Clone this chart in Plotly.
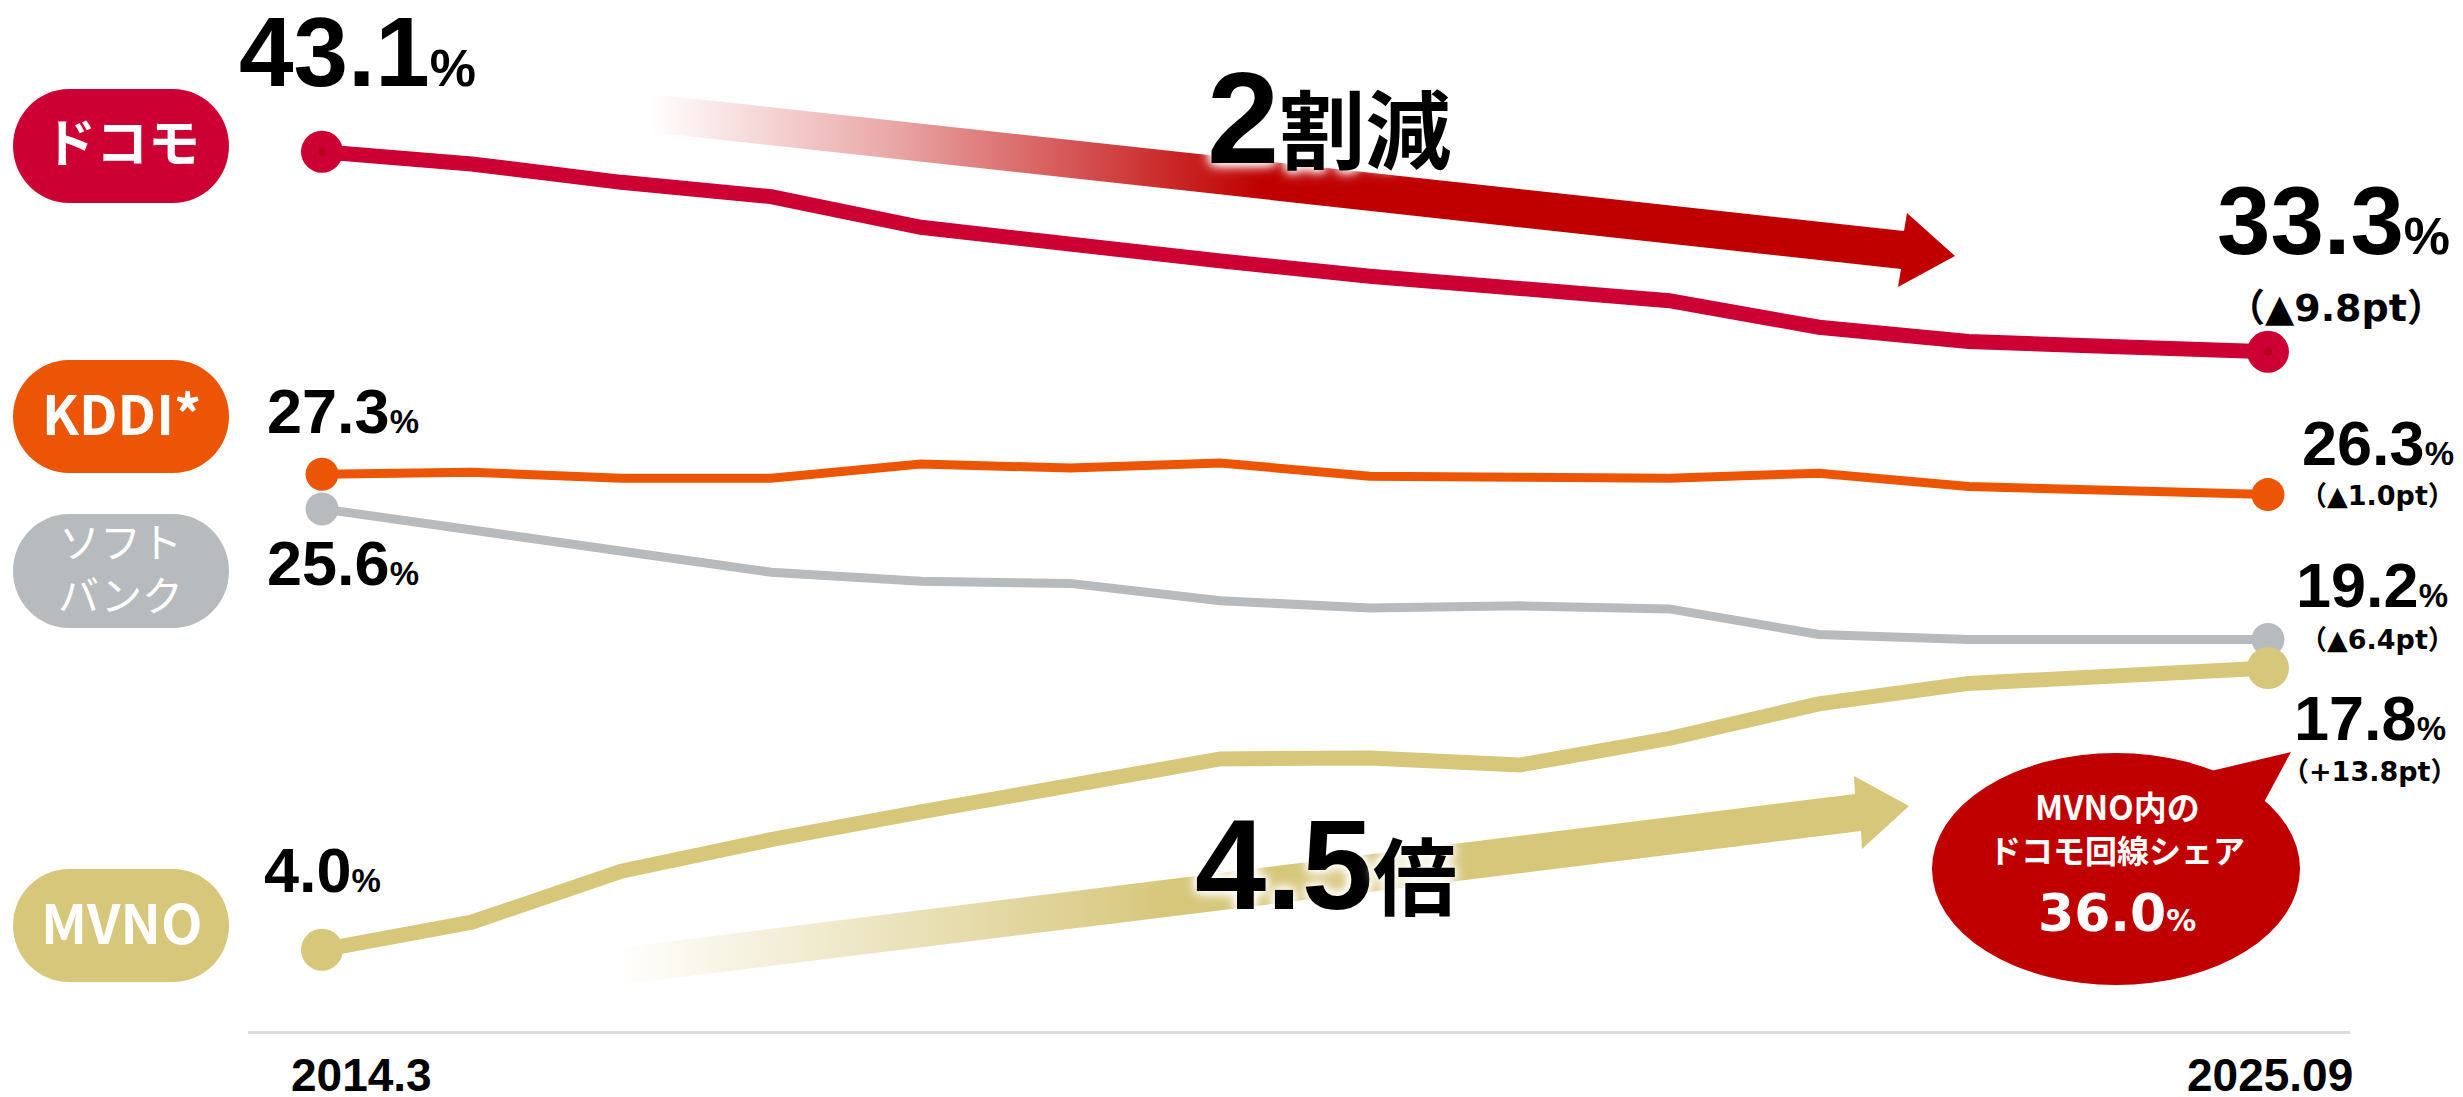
import plotly.graph_objects as go

# ---------------- data ----------------
x_pos = list(range(14))
tick_pos = [0, 13]
tick_labels = ["2014.3", "2025.09"]

series_names = ["ドコモ", "KDDI*", "ソフトバンク", "MVNO"]
docomo = [43.1, 42.5, 41.6, 40.9, 39.4, 38.5, 37.75, 37.0, 36.4, 35.8, 34.5, 33.8, 33.55, 33.3]
kddi = [27.3, 27.4, 27.1, 27.1, 27.8, 27.6, 27.85, 27.2, 27.15, 27.1, 27.35, 26.7, 26.5, 26.3]
softbank = [25.6, 24.6, 23.55, 22.5, 22.05, 21.95, 21.1, 20.75, 20.85, 20.7, 19.45, 19.2, 19.2, 19.2]
mvno = [4.0, 5.35, 7.85, 9.4, 10.75, 12.05, 13.35, 13.4, 13.05, 14.35, 16.05, 17.05, 17.4, 17.8]

start_labels = ["43.1", "27.3", "25.6", "4.0"]
end_labels = ["33.3", "26.3", "19.2", "17.8"]
change_labels = ["（▲9.8pt）", "（▲1.0pt）", "（▲6.4pt）", "（+13.8pt）"]

decline_num, decline_word = "2", "割減"
growth_num, growth_word = "4.5", "倍"
bubble_lines = ["MVNO内の", "ドコモ回線シェア"]
bubble_value = "36.0"

# ---------------- style ----------------
W, H = 2463, 1097
C_DOCOMO = "#CC0033"
C_KDDI = "#EB5505"
C_SB = "#B8BBBE"
C_MVNO = "#D7C77B"
C_RED = "#C00000"
NUM_FONT = "Liberation Sans, Arial, Noto Sans CJK JP"
JP_FONT = "Noto Sans CJK JP"
WIDE_FONT = "DejaVu Sans, Noto Sans CJK JP"

# main axes geometry (pixels)
X_L, X_R, X0_PX, STEP = 248, 2350, 322, 149.69
Y_BASE, PX_PER, YMAX = 1031.4, 20.41, 50
x_range = [(X_L - X0_PX) / STEP, (X_R - X0_PX) / STEP]
y_top_px = Y_BASE - YMAX * PX_PER

fig = go.Figure()

# ---------------- decorative arrows (pixel overlay axes) ----------------
red_arrow = ([650, 1904, 1907, 1955, 1898, 1901, 650],
             [94, 231, 213, 256, 287, 269, 132])
khaki_arrow = ([617, 1855, 1854, 1909, 1862, 1861, 617],
               [948, 794, 776, 806, 849, 831, 985])

fig.add_trace(go.Scatter(
    x=red_arrow[0], y=red_arrow[1], xaxis="x2", yaxis="y2", mode="none",
    fill="toself", hoverinfo="skip", showlegend=False,
    fillgradient=dict(type="horizontal", start=650, stop=1260,
                      colorscale=[[0, "rgba(192,0,0,0)"], [0.4, "rgba(192,0,0,0.35)"],
                                  [1, "rgba(192,0,0,1)"]])))
fig.add_trace(go.Scatter(
    x=khaki_arrow[0], y=khaki_arrow[1], xaxis="x2", yaxis="y2", mode="none",
    fill="toself", hoverinfo="skip", showlegend=False,
    fillgradient=dict(type="horizontal", start=617, stop=1170,
                      colorscale=[[0, "rgba(215,199,123,0)"], [0.45, "rgba(215,199,123,0.45)"],
                                  [1, "rgba(215,199,123,1)"]])))

# ---------------- data lines ----------------
specs = [
    (softbank, C_SB, 9, 33),
    (kddi, C_KDDI, 9, 33),
    (docomo, C_DOCOMO, 15, 42),
    (mvno, C_MVNO, 15, 42),
]
for vals, col, lw, ms in specs:
    fig.add_trace(go.Scatter(x=x_pos, y=vals, mode="lines", cliponaxis=False,
                             line=dict(color=col, width=lw), hoverinfo="skip", showlegend=False))
    fig.add_trace(go.Scatter(x=[x_pos[0], x_pos[-1]], y=[vals[0], vals[-1]], mode="markers",
                             cliponaxis=False, marker=dict(size=ms, color=col, line=dict(width=0)),
                             hoverinfo="skip", showlegend=False))
fig.add_trace(go.Scatter(x=[x_pos[0], x_pos[-1]], y=[docomo[0], docomo[-1]], mode="markers",
                         cliponaxis=False, marker=dict(size=8, color="#B5001C"),
                         hoverinfo="skip", showlegend=False))

# ---------------- shapes ----------------
def pill_path(x0, x1, y0, y1, rx):
    ym = (y0 + y1) / 2
    ry = (y1 - y0) / 2
    k = 0.5523
    return (f"M {x0+rx},{y0} L {x1-rx},{y0} "
            f"C {x1-rx+k*rx},{y0} {x1},{ym-k*ry} {x1},{ym} "
            f"C {x1},{ym+k*ry} {x1-rx+k*rx},{y1} {x1-rx},{y1} "
            f"L {x0+rx},{y1} "
            f"C {x0+rx-k*rx},{y1} {x0},{ym+k*ry} {x0},{ym} "
            f"C {x0},{ym-k*ry} {x0+rx-k*rx},{y0} {x0+rx},{y0} Z")

shapes = []
for (y0, y1, col) in [(89, 203, C_DOCOMO), (360, 473, C_KDDI), (514, 628, C_SB), (869, 982, C_MVNO)]:
    shapes.append(dict(type="path", xref="x2", yref="y2", path=pill_path(13, 229, y0, y1, 56),
                       fillcolor=col, line=dict(width=0), layer="above"))
shapes.append(dict(type="circle", xref="x2", yref="y2", x0=1932, x1=2300, y0=753, y1=985,
                   fillcolor=C_RED, line=dict(width=0), layer="above"))
shapes.append(dict(type="path", xref="x2", yref="y2", path="M 2190,776 L 2291,752 L 2262,806 Z",
                   fillcolor=C_RED, line=dict(width=0), layer="above"))

# ---------------- annotations ----------------
ann = []

def pix(text, x, y, size, color="black", family=NUM_FONT, weight="bold", xanchor="center", shadow=None):
    f = dict(size=size, color=color, family=family, weight=weight)
    if shadow:
        f["shadow"] = shadow
    ann.append(dict(xref="x2", yref="y2", x=x, y=y, text=text, showarrow=False,
                    xanchor=xanchor, yanchor="middle", font=f))

# pill labels
pix(series_names[0], 122, 139, 52, "white", JP_FONT)
pix(series_names[1], 121, 411, 54, "white", JP_FONT)
pix(series_names[2][:3] + "<br>" + series_names[2][3:], 120, 566, 41, "white", JP_FONT, "normal")
pix(series_names[3], 122, 920, 54, "white", JP_FONT)

# callouts
glow = "0px 0px 8px white, 0px 0px 12px white, 0px 0px 16px white"
pix(f"{decline_num}<span style='font-size:86px'>{decline_word}</span>", 1205, 118, 130,
    xanchor="left", shadow=glow)
pix(f"{growth_num}<span style='font-size:84px'>{growth_word}</span>", 1193, 864, 128,
    xanchor="left", shadow=glow)

# bubble
pix(bubble_lines[0], 2117, 806, 33, "white", JP_FONT)
pix(bubble_lines[1], 2117, 848.5, 32, "white", JP_FONT)
pix(f"{bubble_value}<span style='font-size:30px'>%</span>", 2117, 913, 52, "white", WIDE_FONT)

# value labels near data points
all_series = [docomo, kddi, softbank, mvno]
start_shift = [(-85, 100, 98, 52), (-57, 63.7, 63, 33), (-57, -53.6, 63, 33), (-60, 79.7, 63, 33)]
for lab, vals, (xs, ys, fs, ps) in zip(start_labels, all_series, start_shift):
    ann.append(dict(xref="x", yref="y", x=x_pos[0], y=vals[0], xshift=xs, yshift=ys,
                    text=f"{lab}<span style='font-size:{ps}px'>%</span>", showarrow=False,
                    xanchor="left", yanchor="middle",
                    font=dict(size=fs, color="black", family=NUM_FONT, weight="bold")))
end_shift = [(184, 131.7, 96, 52), (188, 52, 63, 33), (182, 54.4, 63, 33), (180, -49.5, 63, 33)]
for lab, vals, (xs, ys, fs, ps) in zip(end_labels, all_series, end_shift):
    ann.append(dict(xref="x", yref="y", x=x_pos[-1], y=vals[-1], xshift=xs, yshift=ys,
                    text=f"{lab}<span style='font-size:{ps}px'>%</span>", showarrow=False,
                    xanchor="right", yanchor="middle",
                    font=dict(size=fs, color="black", family=NUM_FONT, weight="bold")))
chg_shift = [(68, 44, 38), (110, -1, 27), (110, 0.4, 27), (102, -103, 27)]
for lab, vals, (xs, ys, fs) in zip(change_labels, all_series, chg_shift):
    ann.append(dict(xref="x", yref="y", x=x_pos[-1], y=vals[-1], xshift=xs, yshift=ys,
                    text=lab, showarrow=False, xanchor="center", yanchor="middle",
                    font=dict(size=fs, color="black", family=WIDE_FONT, weight="bold")))

# axis tick labels
for tp, tl, xs in zip(tick_pos, tick_labels, [39, 2]):
    ann.append(dict(xref="x", yref="y", x=tp, y=0, xshift=xs, yshift=-44, text=tl,
                    showarrow=False, xanchor="center", yanchor="middle",
                    font=dict(size=46, color="black", family=NUM_FONT, weight="bold")))

fig.update_layout(
    width=W, height=H,
    margin=dict(l=0, r=0, t=0, b=0, pad=0),
    paper_bgcolor="white", plot_bgcolor="rgba(0,0,0,0)",
    showlegend=False,
    xaxis=dict(domain=[X_L / W, X_R / W], range=x_range, showgrid=False, zeroline=False,
               showticklabels=False, ticks="", showline=True, linecolor="#DDDDDD", linewidth=3,
               fixedrange=True),
    yaxis=dict(domain=[(H - Y_BASE) / H, (H - y_top_px) / H], range=[0, YMAX], showgrid=False,
               zeroline=False, showticklabels=False, showline=False, fixedrange=True),
    xaxis2=dict(domain=[0, 1], range=[0, W], anchor="y2", visible=False, fixedrange=True),
    yaxis2=dict(domain=[0, 1], range=[H, 0], anchor="x2", visible=False, fixedrange=True),
    shapes=shapes,
    annotations=ann,
)

fig.write_html("out.html", config={"displayModeBar": False},
               post_script="document.body.style.margin='0px';document.body.style.overflow='hidden';")
